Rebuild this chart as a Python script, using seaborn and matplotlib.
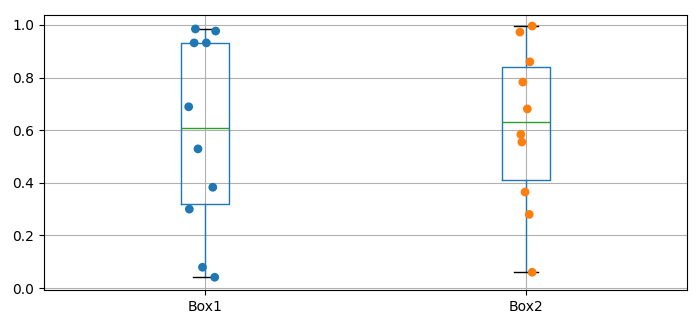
import matplotlib
matplotlib.use("Agg")
import matplotlib.pyplot as plt
import seaborn as sns
import pandas as pd

categories = ["Box1", "Box2"]
box1_values = [0.985, 0.977, 0.932, 0.932, 0.689, 0.529, 0.383, 0.300, 0.079, 0.041]
box1_jitter = [-0.029, 0.034, -0.033, 0.005, -0.050, -0.021, 0.025, -0.048, -0.007, 0.031]
box2_values = [0.996, 0.973, 0.860, 0.783, 0.681, 0.584, 0.555, 0.365, 0.280, 0.060]
box2_jitter = [0.019, -0.019, 0.012, -0.010, 0.004, -0.016, -0.013, -0.003, 0.010, 0.019]
point_colors = ["#1f77b4", "#ff7f0e"]

rows = []
for i, (vals, jit) in enumerate([(box1_values, box1_jitter), (box2_values, box2_jitter)]):
    for v, j in zip(vals, jit):
        rows.append({"group": categories[i], "value": v, "x": i + 1 + j})
df = pd.DataFrame(rows)

fig, ax = plt.subplots(figsize=(7.0, 3.26), dpi=100)
fig.subplots_adjust(left=0.063, right=0.981, top=0.954, bottom=0.110)

ax.boxplot([box1_values, box2_values], positions=[1, 2],
           boxprops=dict(color="#1f77b4"),
           whiskerprops=dict(color="#1f77b4"),
           medianprops=dict(color="#2ca02c"),
           capprops=dict(color="k"),
           flierprops=dict(marker="o"))

sns.scatterplot(data=df, x="x", y="value", hue="group", palette=point_colors,
                s=40, linewidth=0, legend=False, ax=ax, zorder=3)

ax.set_xticks([1, 2])
ax.set_xticklabels(categories)
ax.set_xlim(0.5, 2.5)
ax.set_ylim(-0.008, 1.038)
ax.set_xlabel("")
ax.set_ylabel("")
ax.grid(True)
ax.set_axisbelow(True)

fig.savefig("out.png", dpi=100)
